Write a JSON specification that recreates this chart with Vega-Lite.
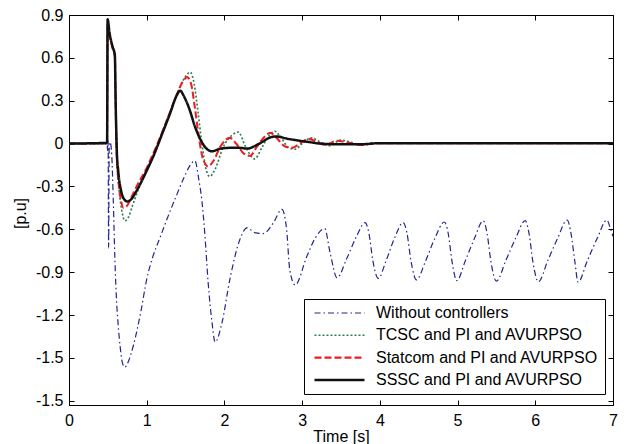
{
 "$schema": "https://vega.github.io/schema/vega-lite/v6.json",
 "width": 544, "height": 390,
 "autosize": {"type": "none"},
 "padding": {"left": 69, "top": 15, "right": 16, "bottom": 39},
 "background": "white",
 "config": {
  "font": "Liberation Sans",
  "view": {"stroke": "black", "strokeWidth": 1},
  "axis": {"grid": false, "labelFontSize": 16, "labelColor": "black", "labelFont": "Liberation Sans", "domainColor": "black", "tickColor": "black", "tickSize": -5, "titleFontSize": 16, "titleFontWeight": "normal", "titleColor": "black", "titleFont": "Liberation Sans"}
 },
 "data": {"values": [
  {"s":"A","t":0,"v":0},{"s":"A","t":0.49,"v":0},{"s":"A","t":0.497,"v":-0.05},{"s":"A","t":0.503,"v":0.02},{"s":"A","t":0.51,"v":-0.73},{"s":"A","t":0.517,"v":-0.04},{"s":"A","t":0.53,"v":0.01},{"s":"A","t":0.55,"v":-0.08},{"s":"A","t":0.57,"v":-0.4},{"s":"A","t":0.59,"v":-0.8},{"s":"A","t":0.61,"v":-1.08},{"s":"A","t":0.63,"v":-1.25},{"s":"A","t":0.66,"v":-1.43},{"s":"A","t":0.69,"v":-1.54},{"s":"A","t":0.72,"v":-1.565},{"s":"A","t":0.76,"v":-1.53},{"s":"A","t":0.83,"v":-1.41},{"s":"A","t":0.93,"v":-1.16},{"s":"A","t":1.0,"v":-0.95},{"s":"A","t":1.08,"v":-0.79},{"s":"A","t":1.17,"v":-0.66},{"s":"A","t":1.26,"v":-0.53},{"s":"A","t":1.37,"v":-0.38},{"s":"A","t":1.47,"v":-0.25},{"s":"A","t":1.55,"v":-0.16},{"s":"A","t":1.62,"v":-0.12},{"s":"A","t":1.67,"v":-0.25},{"s":"A","t":1.71,"v":-0.4},{"s":"A","t":1.75,"v":-0.65},{"s":"A","t":1.79,"v":-0.97},{"s":"A","t":1.84,"v":-1.25},{"s":"A","t":1.88,"v":-1.39},{"s":"A","t":1.97,"v":-1.25},{"s":"A","t":2.07,"v":-0.95},{"s":"A","t":2.2,"v":-0.67},{"s":"A","t":2.29,"v":-0.59},{"s":"A","t":2.4,"v":-0.625},{"s":"A","t":2.5,"v":-0.63},{"s":"A","t":2.63,"v":-0.555},{"s":"A","t":2.74,"v":-0.46},{"s":"A","t":2.8,"v":-0.6},{"s":"A","t":2.84,"v":-0.88},{"s":"A","t":2.91,"v":-0.99},{"s":"A","t":3.06,"v":-0.79},{"s":"A","t":3.17,"v":-0.66},{"s":"A","t":3.29,"v":-0.595},{"s":"A","t":3.36,"v":-0.765},{"s":"A","t":3.45,"v":-0.94},{"s":"A","t":3.57,"v":-0.81},{"s":"A","t":3.70,"v":-0.65},{"s":"A","t":3.81,"v":-0.553},{"s":"A","t":3.86,"v":-0.63},{"s":"A","t":3.91,"v":-0.82},{"s":"A","t":3.98,"v":-0.944},{"s":"A","t":4.08,"v":-0.82},{"s":"A","t":4.19,"v":-0.66},{"s":"A","t":4.30,"v":-0.553},{"s":"A","t":4.35,"v":-0.63},{"s":"A","t":4.40,"v":-0.82},{"s":"A","t":4.47,"v":-0.954},{"s":"A","t":4.59,"v":-0.82},{"s":"A","t":4.71,"v":-0.66},{"s":"A","t":4.83,"v":-0.549},{"s":"A","t":4.88,"v":-0.63},{"s":"A","t":4.93,"v":-0.83},{"s":"A","t":4.99,"v":-0.96},{"s":"A","t":5.10,"v":-0.82},{"s":"A","t":5.22,"v":-0.66},{"s":"A","t":5.33,"v":-0.54},{"s":"A","t":5.38,"v":-0.63},{"s":"A","t":5.43,"v":-0.83},{"s":"A","t":5.50,"v":-0.963},{"s":"A","t":5.62,"v":-0.82},{"s":"A","t":5.75,"v":-0.66},{"s":"A","t":5.87,"v":-0.54},{"s":"A","t":5.92,"v":-0.63},{"s":"A","t":5.97,"v":-0.83},{"s":"A","t":6.04,"v":-0.968},{"s":"A","t":6.16,"v":-0.82},{"s":"A","t":6.29,"v":-0.66},{"s":"A","t":6.41,"v":-0.535},{"s":"A","t":6.46,"v":-0.63},{"s":"A","t":6.51,"v":-0.83},{"s":"A","t":6.55,"v":-0.97},{"s":"A","t":6.67,"v":-0.82},{"s":"A","t":6.80,"v":-0.66},{"s":"A","t":6.92,"v":-0.535},{"s":"A","t":6.97,"v":-0.6},{"s":"A","t":7.0,"v":-0.65},
  {"s":"B","t":0,"v":0},{"s":"B","t":0.49,"v":0},{"s":"B","t":0.497,"v":0.85},{"s":"B","t":0.52,"v":0.77},{"s":"B","t":0.56,"v":0.67},{"s":"B","t":0.59,"v":0.61},{"s":"B","t":0.60,"v":0.3},{"s":"B","t":0.615,"v":-0.1},{"s":"B","t":0.64,"v":-0.3},{"s":"B","t":0.68,"v":-0.47},{"s":"B","t":0.72,"v":-0.54},{"s":"B","t":0.76,"v":-0.52},{"s":"B","t":0.82,"v":-0.43},{"s":"B","t":0.9,"v":-0.31},{"s":"B","t":1.0,"v":-0.18},{"s":"B","t":1.1,"v":-0.06},{"s":"B","t":1.2,"v":0.08},{"s":"B","t":1.3,"v":0.22},{"s":"B","t":1.4,"v":0.36},{"s":"B","t":1.5,"v":0.47},{"s":"B","t":1.56,"v":0.50},{"s":"B","t":1.61,"v":0.42},{"s":"B","t":1.66,"v":0.22},{"s":"B","t":1.71,"v":0.0},{"s":"B","t":1.76,"v":-0.17},{"s":"B","t":1.81,"v":-0.23},{"s":"B","t":1.88,"v":-0.18},{"s":"B","t":1.98,"v":-0.03},{"s":"B","t":2.1,"v":0.06},{"s":"B","t":2.18,"v":0.08},{"s":"B","t":2.27,"v":-0.02},{"s":"B","t":2.39,"v":-0.107},{"s":"B","t":2.48,"v":-0.03},{"s":"B","t":2.58,"v":0.06},{"s":"B","t":2.65,"v":0.086},{"s":"B","t":2.73,"v":0.04},{"s":"B","t":2.83,"v":-0.03},{"s":"B","t":2.91,"v":-0.04},{"s":"B","t":3.0,"v":0.0},{"s":"B","t":3.12,"v":0.04},{"s":"B","t":3.22,"v":0.015},{"s":"B","t":3.35,"v":-0.015},{"s":"B","t":3.5,"v":0.025},{"s":"B","t":3.62,"v":0.01},{"s":"B","t":3.75,"v":-0.01},{"s":"B","t":3.9,"v":0.003},{"s":"B","t":7.0,"v":0.003},
  {"s":"C","t":0,"v":0},{"s":"C","t":0.49,"v":0},{"s":"C","t":0.497,"v":0.85},{"s":"C","t":0.52,"v":0.77},{"s":"C","t":0.56,"v":0.67},{"s":"C","t":0.59,"v":0.61},{"s":"C","t":0.60,"v":0.3},{"s":"C","t":0.615,"v":-0.08},{"s":"C","t":0.635,"v":-0.25},{"s":"C","t":0.67,"v":-0.40},{"s":"C","t":0.70,"v":-0.45},{"s":"C","t":0.74,"v":-0.44},{"s":"C","t":0.80,"v":-0.38},{"s":"C","t":0.87,"v":-0.30},{"s":"C","t":1.0,"v":-0.17},{"s":"C","t":1.1,"v":-0.05},{"s":"C","t":1.2,"v":0.08},{"s":"C","t":1.3,"v":0.22},{"s":"C","t":1.4,"v":0.36},{"s":"C","t":1.47,"v":0.44},{"s":"C","t":1.52,"v":0.465},{"s":"C","t":1.57,"v":0.42},{"s":"C","t":1.62,"v":0.25},{"s":"C","t":1.67,"v":0.05},{"s":"C","t":1.72,"v":-0.1},{"s":"C","t":1.79,"v":-0.16},{"s":"C","t":1.86,"v":-0.12},{"s":"C","t":1.95,"v":-0.02},{"s":"C","t":2.07,"v":0.04},{"s":"C","t":2.15,"v":0.0},{"s":"C","t":2.25,"v":-0.07},{"s":"C","t":2.33,"v":-0.085},{"s":"C","t":2.42,"v":-0.02},{"s":"C","t":2.52,"v":0.05},{"s":"C","t":2.59,"v":0.075},{"s":"C","t":2.67,"v":0.04},{"s":"C","t":2.78,"v":-0.02},{"s":"C","t":2.87,"v":-0.03},{"s":"C","t":2.97,"v":0.0},{"s":"C","t":3.08,"v":0.033},{"s":"C","t":3.2,"v":0.01},{"s":"C","t":3.3,"v":-0.01},{"s":"C","t":3.45,"v":0.02},{"s":"C","t":3.6,"v":0.005},{"s":"C","t":3.75,"v":-0.01},{"s":"C","t":4.0,"v":0.003},{"s":"C","t":7.0,"v":0.003},
  {"s":"D","t":0,"v":0},{"s":"D","t":0.49,"v":0.005},{"s":"D","t":0.497,"v":0.87},{"s":"D","t":0.52,"v":0.78},{"s":"D","t":0.56,"v":0.68},{"s":"D","t":0.59,"v":0.62},{"s":"D","t":0.60,"v":0.3},{"s":"D","t":0.615,"v":-0.05},{"s":"D","t":0.635,"v":-0.2},{"s":"D","t":0.67,"v":-0.33},{"s":"D","t":0.71,"v":-0.39},{"s":"D","t":0.75,"v":-0.405},{"s":"D","t":0.80,"v":-0.39},{"s":"D","t":0.87,"v":-0.33},{"s":"D","t":1.0,"v":-0.19},{"s":"D","t":1.1,"v":-0.07},{"s":"D","t":1.2,"v":0.07},{"s":"D","t":1.3,"v":0.21},{"s":"D","t":1.38,"v":0.33},{"s":"D","t":1.43,"v":0.37},{"s":"D","t":1.48,"v":0.33},{"s":"D","t":1.55,"v":0.24},{"s":"D","t":1.62,"v":0.12},{"s":"D","t":1.69,"v":0.03},{"s":"D","t":1.76,"v":-0.03},{"s":"D","t":1.84,"v":-0.054},{"s":"D","t":1.95,"v":-0.035},{"s":"D","t":2.07,"v":-0.03},{"s":"D","t":2.2,"v":-0.03},{"s":"D","t":2.29,"v":-0.035},{"s":"D","t":2.45,"v":0.0},{"s":"D","t":2.6,"v":0.045},{"s":"D","t":2.67,"v":0.05},{"s":"D","t":2.8,"v":0.035},{"s":"D","t":2.93,"v":0.023},{"s":"D","t":3.1,"v":0.01},{"s":"D","t":3.23,"v":0.0},{"s":"D","t":3.5,"v":-0.005},{"s":"D","t":3.75,"v":-0.005},{"s":"D","t":4.0,"v":0.003},{"s":"D","t":7.0,"v":0.003}
 ]},
 "layer": [
  {
   "mark": {"type": "line", "interpolate": "monotone", "clip": true},
   "encoding": {
    "x": {"field": "t", "type": "quantitative", "scale": {"domain": [0, 7], "nice": false},
          "axis": {"orient": "bottom", "values": [0,1,2,3,4,5,6,7], "format": "d", "labelPadding": 12, "title": "Time [s]", "titleY": 23, "titleBaseline": "top", "labelFlush": false}},
    "y": {"field": "v", "type": "quantitative", "scale": {"domain": [-1.83, 0.9], "nice": false, "zero": false},
          "axis": {"orient": "left", "values": [0.9,0.6,0.3,0,-0.3,-0.6,-0.9,-1.2,-1.5,-1.8], "labelPadding": 11, "labelFlush": false,
                   "labelExpr": "datum.value < -1.75 ? '-1.5' : (abs(datum.value) < 0.001 ? '0' : (datum.value < 0 ? '-' + format(-datum.value, '.1f') : format(datum.value, '.1f')))",
                   "title": "[p.u]", "titleX": -49, "titleY": 198, "titleAngle": -90, "titleBaseline": "middle"}},
    "color": {"field": "s", "type": "nominal",
              "scale": {"domain": ["A","B","C","D"], "range": ["#24248f", "#2e7d4f", "#ee1c25", "#111111"]},
              "legend": {"orient": "none", "legendX": 235, "legendY": 284, "title": null, "symbolType": "stroke", "symbolSize": 2500, "clipHeight": 16,
                         "labelFontSize": 16, "labelFont": "Liberation Sans", "labelColor": "black", "labelLimit": 400, "padding": 6, "rowPadding": 6.3, "symbolOffset": 3, "labelOffset": 10,
                         "strokeColor": "black", "fillColor": "white", "cornerRadius": 0,
                         "labelExpr": "datum.label == 'A' ? 'Without controllers' : datum.label == 'B' ? 'TCSC and PI and AVURPSO' : datum.label == 'C' ? 'Statcom and PI and AVURPSO' : 'SSSC and PI and AVURPSO'"}},
    "strokeDash": {"field": "s", "type": "nominal",
              "scale": {"domain": ["A","B","C","D"], "range": [[6,3,1.5,3],[2,2],[7,3],[1,0]]}},
    "strokeWidth": {"field": "s", "type": "nominal",
              "scale": {"domain": ["A","B","C","D"], "range": [1.2, 2.5, 2.5, 4.5]}}
   }
  },
  {
   "mark": {"type": "point", "opacity": 0},
   "encoding": {
    "x": {"field": "t", "type": "quantitative", "axis": {"orient": "top", "values": [0,1,2,3,4,5,6,7], "labels": false, "domain": false, "title": null}},
    "y": {"field": "v", "type": "quantitative", "axis": {"orient": "right", "values": [0.9,0.6,0.3,0,-0.3,-0.6,-0.9,-1.2,-1.5,-1.8], "labels": false, "domain": false, "title": null}}
   }
  }
 ],
 "resolve": {"axis": {"x": "independent", "y": "independent"}}
}
